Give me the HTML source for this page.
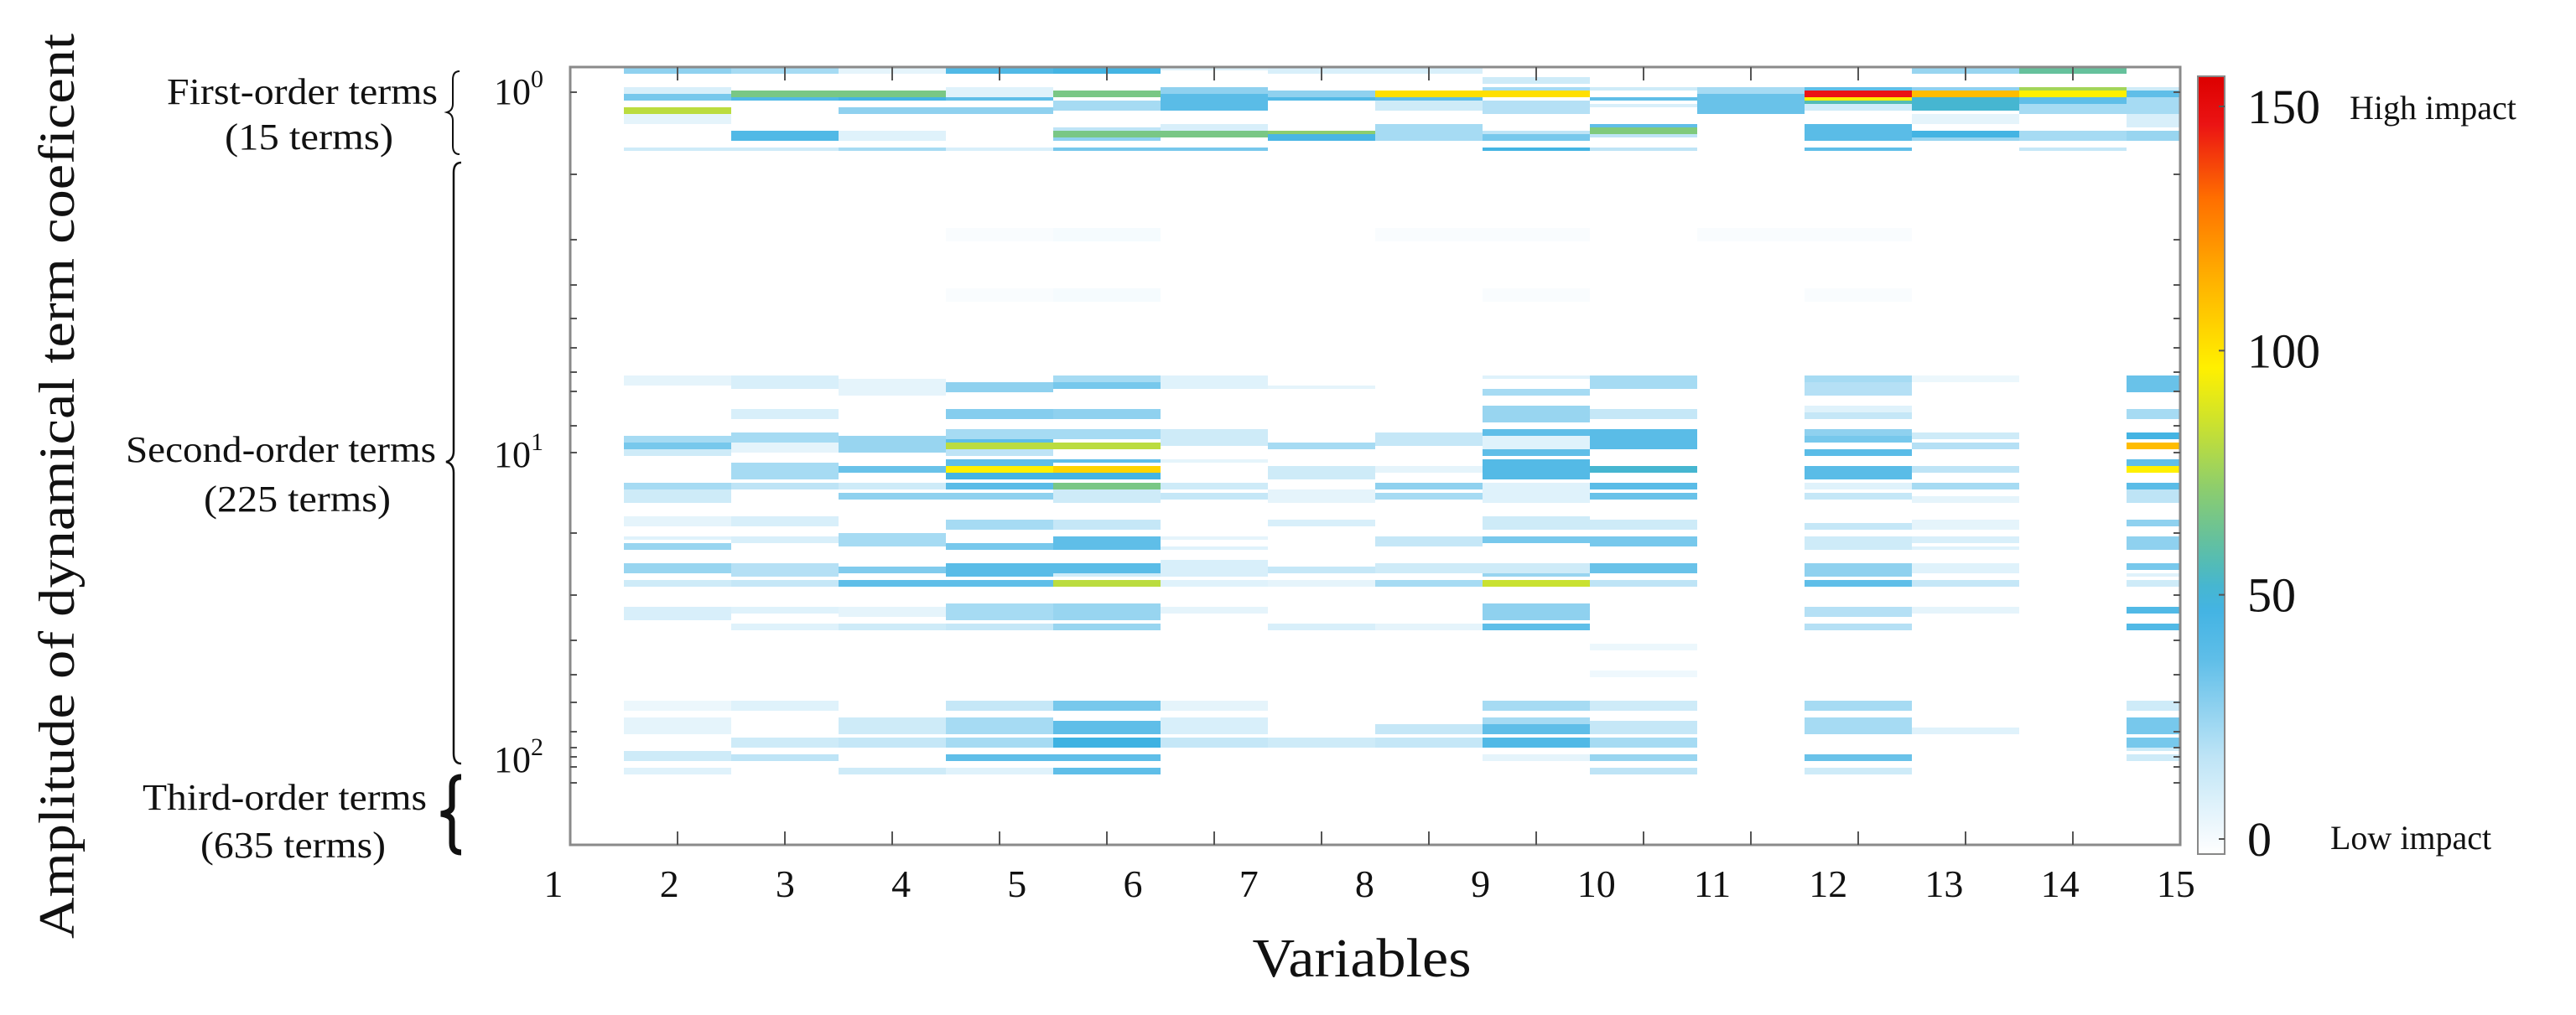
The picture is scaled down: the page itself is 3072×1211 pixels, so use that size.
<!DOCTYPE html>
<html>
<head>
<meta charset="utf-8">
<style>
  html,body{margin:0;padding:0;background:#fff;}
  svg{display:block;}
  text{font-family:"Liberation Serif","DejaVu Serif",serif;fill:#111;}
</style>
</head>
<body>
<svg id="chart" xmlns="http://www.w3.org/2000/svg" width="3072" height="1211" viewBox="0 0 3072 1211">
  <rect x="0" y="0" width="3072" height="1211" fill="#fff"/>
  <g id="cells"></g>
  <g id="axes"></g>
  <g id="colorbar"></g>
  <g id="labels"></g>
</svg>
<script>
// ---- data: each band = [rowStart, rowEnd, impactValue]; rows are term-index rows (top to bottom)
const variables = [1,2,3,4,5,6,7,8,9,10,11,12,13,14,15];
const xTickLabels = ["1","2","3","4","5","6","7","8","9","10","11","12","13","14","15"];
const colorbarTicks = [0,50,100,150];
const col1 = [[0,1,30],[6,7,12],[8,9,35],[12,13,85],[14,16,8],[24,24,15],
  [92,94,8],[110,111,25],[112,113,35],[114,115,15],[124,125,25],[126,129,15],[134,136,8],[140,140,10],[142,143,28],[148,150,28],[153,154,15],[161,164,12],[189,191,6],[194,198,8],[204,206,15],[209,210,10]];
const col2 = [[0,1,25],[7,8,70],[9,9,45],[19,21,45],[24,24,15],
  [92,95,12],[102,104,12],[109,111,25],[112,114,8],[118,122,25],[124,125,20],[134,136,12],[140,141,12],[148,151,22],[153,154,18],[161,162,10],[166,167,10],[189,191,10],[200,202,15],[205,206,20]];
const col3 = [[0,1,8],[7,8,70],[9,9,50],[12,13,30],[19,21,10],[24,24,25],
  [93,97,8],[110,114,28],[119,120,38],[124,125,15],[127,128,30],[139,142,25],[149,150,33],[153,154,40],[161,163,8],[166,167,15],[194,198,15],[200,202,18],[209,210,15]];
const col4 = [[0,1,45],[6,8,10],[9,9,40],[12,13,30],[24,24,12],[48,51,2],[66,69,2],
  [94,96,30],[102,104,32],[108,110,25],[111,111,40],[112,113,85],[114,115,20],[117,118,40],[119,120,100],[121,122,50],[124,125,42],[127,128,30],[135,137,25],[142,143,35],[148,151,42],[153,154,40],[160,164,25],[166,167,18],[189,191,18],[194,198,25],[200,202,25],[205,206,40],[209,210,10]];
const col5 = [[0,1,50],[7,8,70],[10,12,25],[18,18,20],[19,20,70],[21,21,30],[24,24,35],[48,51,3],[66,69,3],
  [92,93,25],[94,95,35],[102,104,30],[108,110,25],[112,113,85],[117,117,40],[119,120,108],[121,122,50],[124,125,70],[126,129,15],[135,137,18],[140,143,40],[148,150,42],[151,151,15],[153,154,85],[160,164,28],[166,167,28],[189,191,35],[195,198,40],[200,202,52],[205,206,40],[209,210,40]];
const col6 = [[0,0,10],[6,7,30],[8,12,42],[17,18,12],[19,20,70],[24,24,35],
  [92,95,10],[108,110,15],[110,112,15],[117,117,8],[124,125,15],[127,128,18],[140,140,8],[143,143,10],[147,151,12],[153,154,10],[161,162,8],[189,191,8],[194,198,12],[200,202,18]];
const col7 = [[0,1,12],[7,8,30],[9,9,45],[19,19,75],[20,21,48],
  [95,95,8],[112,113,25],[119,122,15],[126,129,8],[135,136,12],[149,150,18],[153,154,8],[166,167,12],[200,202,15]];
const col8 = [[0,1,12],[7,8,105],[9,9,40],[10,12,15],[17,21,25],[48,51,2],
  [109,112,18],[119,120,8],[124,125,30],[127,128,25],[140,142,18],[148,150,15],[153,154,25],[166,167,8],[196,198,18],[200,202,18]];
const col9 = [[3,4,15],[6,6,25],[7,8,105],[10,13,22],[19,19,20],[20,21,35],[24,24,50],[48,51,2],[66,69,2],
  [92,92,10],[96,97,25],[101,105,28],[108,110,40],[110,113,10],[114,115,40],[117,122,44],[124,129,10],[134,137,15],[140,141,35],[148,150,15],[151,151,28],[153,154,88],[160,164,30],[166,167,40],[189,191,25],[194,195,25],[196,198,40],[200,202,45],[205,206,8]];
const col10 = [[6,6,15],[9,9,40],[11,11,12],[17,17,40],[18,19,72],[20,20,20],[24,24,20],
  [92,95,25],[102,104,18],[108,113,42],[119,120,55],[124,125,42],[127,128,38],[135,137,15],[140,142,35],[148,150,38],[153,154,20],[172,173,6],[180,181,5],[189,191,15],[195,198,18],[200,202,25],[205,206,28],[209,210,20]];
const col11 = [[6,7,25],[8,13,38],[48,51,2]];
const col12 = [[6,6,40],[7,8,150],[9,9,100],[10,10,60],[11,12,15],[17,21,42],[24,24,40],[48,51,2],[66,69,2],
  [92,93,25],[94,97,22],[101,102,10],[103,104,18],[108,109,30],[110,111,35],[114,115,42],[119,122,42],[124,125,10],[127,128,18],[136,137,18],[140,143,15],[148,151,30],[153,154,40],[161,163,22],[166,167,22],[189,191,25],[194,198,25],[205,206,38],[209,210,15]];
const col13 = [[0,1,28],[6,6,30],[7,8,115],[9,12,55],[14,16,8],[19,20,50],[21,21,28],
  [92,93,6],[109,110,15],[112,113,22],[119,120,20],[124,125,25],[128,129,8],[135,137,8],[140,141,12],[143,143,10],[148,150,10],[153,154,18],[161,162,8],[197,198,10]];
const col14 = [[0,1,65],[6,6,80],[7,8,100],[9,10,40],[11,13,25],[19,21,25],[24,24,18]];
const col15 = [[6,6,15],[7,8,40],[9,13,25],[14,17,12],[19,21,28],
  [92,93,38],[94,96,38],[102,104,25],[109,110,50],[112,113,115],[117,118,40],[119,120,100],[124,125,42],[126,129,20],[135,136,30],[140,143,30],[148,149,35],[151,151,10],[153,154,15],[161,162,45],[166,167,45],[189,191,15],[194,196,35],[197,198,35],[200,202,35],[203,203,15],[205,206,15]];
const columns = [col1,col2,col3,col4,col5,col6,col7,col8,col9,col10,col11,col12,col13,col14,col15];

// ---- geometry
const PL=680, PR=2600, PT=80, PB=1008;
const COLW=128, ROWH=4;
function xScale(v){ return PL + COLW*(v-0.5); }
function yScale(r){ return PT + r*ROWH; }
const CBX=2621, CBW=32, CBT=91, CBB=1019;
function cbScale(v){ return 1001 - v*(1001-127)/150; }

const stops=[[0,[255,255,255]],[20,[190,228,246]],[40,[95,190,232]],[52,[62,178,226]],[62,[90,190,170]],[75,[140,205,110]],[90,[210,228,40]],[100,[255,240,0]],[120,[255,170,0]],[135,[255,110,0]],[150,[235,20,20]],[160,[220,0,0]]];
function cmap(v){
  for(let i=1;i<stops.length;i++){
    if(v<=stops[i][0]){
      const a=stops[i-1],b=stops[i],t=(v-a[0])/(b[0]-a[0]);
      const c=a[1].map((x,k)=>Math.round(x+(b[1][k]-x)*t));
      return `rgb(${c[0]},${c[1]},${c[2]})`;
    }
  }
  return 'rgb(220,0,0)';
}
const NS="http://www.w3.org/2000/svg";
function mk(tag,attrs,parent){const e=document.createElementNS(NS,tag);for(const k in attrs)e.setAttribute(k,attrs[k]);parent.appendChild(e);return e;}

// ---- cells
const cells=document.getElementById('cells');
columns.forEach((bands,ci)=>{
  const v=variables[ci];
  const x0=xScale(v), x1=Math.min(xScale(v+1),PR);
  bands.forEach(b=>{
    const r=mk('rect',{x:x0,y:yScale(b[0]),width:x1-x0,height:yScale(b[1]+1)-yScale(b[0]),fill:cmap(b[2])},cells);
    
    
  });
});

// ---- axes
const axes=document.getElementById('axes');
const frame=mk('rect',{x:PL,y:PT,width:PR-PL,height:PB-PT,fill:'none',stroke:'#8a8a8a','stroke-width':3},axes);


for(let k=1;k<=14;k++){
  const x=PL+COLW*k;
  const t1=mk('line',{x1:x,y1:PT,x2:x,y2:PT+16,stroke:'#555','stroke-width':2},axes);
  
  
  const t2=mk('line',{x1:x,y1:PB,x2:x,y2:PB-16,stroke:'#555','stroke-width':2},axes);
  
  
}
const yMinor=[110,208,286,340,380,415,444,467,508,540,636,710,764,805,838,873,892,903,915,934];
yMinor.forEach(y=>{
  const a=mk('line',{x1:PL,y1:y,x2:PL+8,y2:y,stroke:'#555','stroke-width':2},axes);
  
  
  const b=mk('line',{x1:PR,y1:y,x2:PR-8,y2:y,stroke:'#555','stroke-width':2},axes);
  
  
});
xTickLabels.forEach((s,i)=>{
  const t=mk('text',{x:660+i*138.2,y:1070,'font-size':46,'text-anchor':'middle'},axes);
  t.textContent=s;
  
  
});

// ---- colorbar
const cb=document.getElementById('colorbar');
const defs=mk('defs',{},cb);
const grad=mk('linearGradient',{id:'cbg',x1:0,y1:1,x2:0,y2:0},defs);
for(let v=0;v<=160;v+=5){mk('stop',{offset:(v/160).toFixed(4),'stop-color':cmap(v)},grad);}
const cbr=mk('rect',{x:CBX,y:CBT,width:CBW,height:CBB-CBT,fill:'url(#cbg)',stroke:'#888','stroke-width':2},cb);


colorbarTicks.forEach(v=>{
  const y=cbScale(v);
  const tk=mk('line',{x1:CBX+CBW-7,y1:y,x2:CBX+CBW,y2:y,stroke:'#555','stroke-width':2},cb);
  
  
  const t=mk('text',{x:2680,y:y+20,'font-size':58},cb);
  t.textContent=String(v);
  
  
});
</script>
<svg style="position:absolute;left:0;top:0" width="3072" height="1211" viewBox="0 0 3072 1211" xmlns="http://www.w3.org/2000/svg">
  <text x="2802" y="142" font-size="40">High impact</text>
  <text x="2779" y="1013" font-size="40">Low impact</text>

  <text x="589" y="124" font-size="44">10<tspan dy="-20" font-size="30">0</tspan></text>
  <text x="589" y="557" font-size="44">10<tspan dy="-20" font-size="30">1</tspan></text>
  <text x="589" y="921" font-size="44">10<tspan dy="-20" font-size="30">2</tspan></text>

  <text x="199" y="124" font-size="44" textLength="323" lengthAdjust="spacingAndGlyphs">First-order terms</text>
  <text x="268" y="178" font-size="44" textLength="201" lengthAdjust="spacingAndGlyphs">(15 terms)</text>
  <text x="150" y="551" font-size="44" textLength="370" lengthAdjust="spacingAndGlyphs">Second-order terms</text>
  <text x="243" y="610" font-size="44" textLength="223" lengthAdjust="spacingAndGlyphs">(225 terms)</text>
  <text x="170" y="966" font-size="44" textLength="339" lengthAdjust="spacingAndGlyphs">Third-order terms</text>
  <text x="239" y="1023" font-size="44" textLength="221" lengthAdjust="spacingAndGlyphs">(635 terms)</text>

  <path d="M548,85 Q540,85 540,95 L540,124 Q540,132 533,134 Q540,136 540,144 L540,174 Q540,184 548,184" fill="none" stroke="#111" stroke-width="2"/>
  <path d="M550,194 Q541,194 541,206 L541,538 Q541,549 532,551 Q541,553 541,564 L541,899 Q541,911 550,911" fill="none" stroke="#111" stroke-width="2.5"/>
  <path d="M550,927 Q539,927 539,938 L539,962 Q539,969 526,971 Q539,973 539,980 L539,1006 Q539,1017 550,1017" fill="none" stroke="#111" stroke-width="7"/>

  <text transform="translate(88,580) rotate(-90)" x="0" y="0" font-size="60" text-anchor="middle" textLength="1080" lengthAdjust="spacingAndGlyphs">Amplitude of dynamical term coeficent</text>
  <text x="1624" y="1165" font-size="66" text-anchor="middle" textLength="261" lengthAdjust="spacingAndGlyphs">Variables</text>
</svg>
</body>
</html>
